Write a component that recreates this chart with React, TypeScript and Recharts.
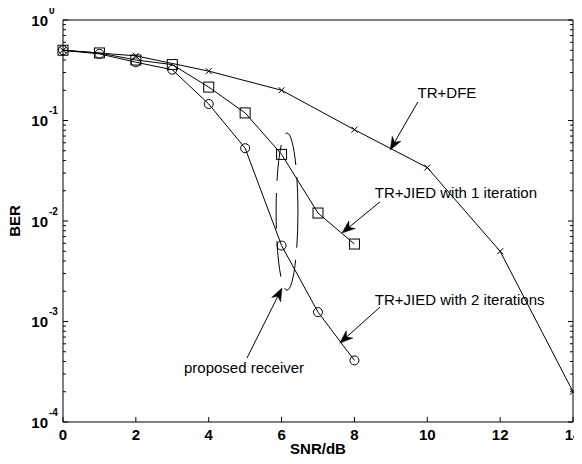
import React from 'react';
import { LineChart, Line, XAxis, YAxis, ReferenceLine, ReferenceDot, ReferenceArea } from 'recharts';

// ---- data ----
const dfeSnr = [0, 2, 4, 6, 8, 10, 12, 14];
const dfeBer = [0.5, 0.44, 0.31, 0.2, 0.081, 0.034, 0.005, 0.0002];
const jiedSnr = [0, 1, 2, 3, 4, 5, 6, 7, 8];
const jied1Ber = [0.5, 0.47, 0.4, 0.36, 0.215, 0.119, 0.046, 0.012, 0.0059];
const jied2Ber = [0.5, 0.46, 0.38, 0.32, 0.146, 0.053, 0.0057, 0.00124, 0.00041];

const xTicks = [0, 2, 4, 6, 8, 10, 12, 14];
const yExponents = [-4, -3, -2, -1, 0];
const yMinorMultipliers = [2, 3, 4, 5, 6, 7, 8, 9];
const yMajorTicks = yExponents.map((e) => Math.pow(10, e));
const yMinorTicks = yExponents.slice(0, -1).flatMap((e) => yMinorMultipliers.map((m) => m * Math.pow(10, e)));
const yAllTicks = [...yMajorTicks, ...yMinorTicks].sort((a, b) => a - b);

const annotationLabels = [
  { text: 'TR+DFE', x: 10.54, y: 0.192, anchor: 'middle' },
  { text: 'TR+JIED with 1 iteration', x: 8.56, y: 0.0194, anchor: 'start' },
  { text: 'TR+JIED with 2 iterations', x: 8.56, y: 0.00164, anchor: 'start' },
  { text: 'proposed receiver', x: 4.97, y: 0.000345, anchor: 'middle' },
];
const annotationArrows = [
  { from: { x: 9.74, y: 0.153 }, to: { x: 8.98, y: 0.0508 } },
  { from: { x: 8.7, y: 0.0155 }, to: { x: 7.66, y: 0.0076 } },
  { from: { x: 8.7, y: 0.00139 }, to: { x: 7.6, y: 0.00061 } },
  { from: { x: 5.05, y: 0.000433 }, to: { x: 6.01, y: 0.00215 } },
];
const ellipseBox = { x1: 5.85, x2: 6.45, y1: 0.00205, y2: 0.075 };

const FONT = "'Liberation Sans', Arial, Helvetica, sans-serif";

const toPoints = (xs: number[], ys: number[]) => xs.map((x, i) => ({ x, y: ys[i] }));
const dfeData = toPoints(dfeSnr, dfeBer);
const jied1Data = toPoints(jiedSnr, jied1Ber);
const jied2Data = toPoints(jiedSnr, jied2Ber);

const isMajor = (v: number) => {
  const lg = Math.log10(v);
  return Math.abs(lg - Math.round(lg)) < 1e-6;
};

const LeftTick = (p: any) => {
  const { x, y, payload } = p;
  const v = payload.value;
  const major = isMajor(v);
  const e = Math.round(Math.log10(v));
  return (
    <g>
      <line x1={x} y1={y} x2={x + (major ? 5 : 3)} y2={y} stroke="#000" strokeWidth={1} />
      {major && (
        <g fontFamily={FONT} fontWeight="bold" fill="#000">
          <text x={x - 15} y={y} textAnchor="end" dominantBaseline="central" fontSize={15}>10</text>
          <text x={x - 14} y={y - 10} textAnchor="start" dominantBaseline="central" fontSize={10}>{String(e)}</text>
        </g>
      )}
    </g>
  );
};

const RightTick = (p: any) => {
  const { x, y, payload } = p;
  const major = isMajor(payload.value);
  return <line x1={x} y1={y} x2={x - (major ? 5 : 3)} y2={y} stroke="#000" strokeWidth={1} />;
};

const BottomTick = (p: any) => {
  const { x, y, payload } = p;
  return (
    <g>
      <line x1={x} y1={y} x2={x} y2={y - 5} stroke="#000" strokeWidth={1} />
      <text x={x} y={y + 12} textAnchor="middle" dominantBaseline="central" fontFamily={FONT} fontWeight="bold" fontSize={15} fill="#000">
        {String(payload.value)}
      </text>
    </g>
  );
};

const TopTick = (p: any) => {
  const { x, y } = p;
  return <line x1={x} y1={y} x2={x} y2={y + 5} stroke="#000" strokeWidth={1} />;
};

const SquareDot = (p: any) => {
  if (p.cx == null || p.cy == null) return <g key={p.key} />;
  return <rect key={p.key} x={p.cx - 5} y={p.cy - 5} width={10} height={10} fill="none" stroke="#000" strokeWidth={1} />;
};
const CircleDot = (p: any) => {
  if (p.cx == null || p.cy == null) return <g key={p.key} />;
  return <circle key={p.key} cx={p.cx} cy={p.cy} r={4.5} fill="none" stroke="#000" strokeWidth={1} />;
};
const CrossDot = (p: any) => {
  if (p.cx == null || p.cy == null) return <g key={p.key} />;
  const s = 3;
  return (
    <g key={p.key} stroke="#000" strokeWidth={1}>
      <line x1={p.cx - s} y1={p.cy - s} x2={p.cx + s} y2={p.cy + s} />
      <line x1={p.cx - s} y1={p.cy + s} x2={p.cx + s} y2={p.cy - s} />
    </g>
  );
};

const ArrowShape = (p: any) => {
  const { x1, y1, x2, y2 } = p;
  if ([x1, y1, x2, y2].some((v) => v == null || isNaN(v))) return <g />;
  const dx = x2 - x1;
  const dy = y2 - y1;
  const len = Math.hypot(dx, dy) || 1;
  const ux = dx / len;
  const uy = dy / len;
  const nx = -uy;
  const ny = ux;
  const L = 13;
  const W = 5;
  const N = 9;
  const bx = x2 - ux * L;
  const by = y2 - uy * L;
  const pts = [
    [x2, y2],
    [bx + nx * W, by + ny * W],
    [x2 - ux * N, y2 - uy * N],
    [bx - nx * W, by - ny * W],
  ]
    .map((q) => q.join(','))
    .join(' ');
  return (
    <g>
      <line x1={x1} y1={y1} x2={x2 - ux * N} y2={y2 - uy * N} stroke="#000" strokeWidth={1} />
      <polygon points={pts} fill="#000" stroke="#000" strokeWidth={0.5} />
    </g>
  );
};

const EllipseShape = (p: any) => {
  const { x, y, width, height } = p;
  if ([x, y, width, height].some((v) => v == null || isNaN(v))) return <g />;
  return (
    <ellipse
      cx={x + width / 2}
      cy={y + height / 2}
      rx={Math.abs(width) / 2}
      ry={Math.abs(height) / 2}
      fill="none"
      stroke="#000"
      strokeWidth={1}
      strokeDasharray="36 12"
    />
  );
};

const makeTextShape = (text: string, anchor: string) => (p: any) => {
  if (p.cx == null || p.cy == null) return <g />;
  return (
    <text x={p.cx} y={p.cy} textAnchor={anchor as any} dominantBaseline="central" fontFamily={FONT} fontSize={15} fill="#000">
      {text}
    </text>
  );
};

const BerLabel = (p: any) => {
  const vb = p.viewBox || {};
  const cx = (vb.x ?? 13) + 1;
  const cy = (vb.y ?? 20) + (vb.height ?? 402) / 2;
  return (
    <text x={cx} y={cy} transform={`rotate(-90 ${cx} ${cy})`} textAnchor="middle" dominantBaseline="central" fontFamily={FONT} fontWeight="bold" fontSize={15} fill="#000">
      BER
    </text>
  );
};

const SnrLabel = (p: any) => {
  const vb = p.viewBox || {};
  const cx = (vb.x ?? 63) + (vb.width ?? 510) / 2;
  const cy = (vb.y ?? 422) + 26;
  return (
    <text x={cx} y={cy} textAnchor="middle" dominantBaseline="central" fontFamily={FONT} fontWeight="bold" fontSize={15} fill="#000">
      SNR/dB
    </text>
  );
};

export default function App() {
  const axisLine = { stroke: '#000', strokeWidth: 1 };
  return (
    <div style={{ width: 582, height: 464, margin: '-8px 0 0 -8px' }}>
      <LineChart width={582} height={464} margin={{ top: 19, right: 8, bottom: 0, left: 13 }}>
        <XAxis
          dataKey="x"
          type="number"
          domain={[0, 14]}
          ticks={xTicks}
          interval={0}
          height={42}
          tickSize={0}
          tickMargin={0}
          tickLine={false}
          axisLine={axisLine}
          tick={<BottomTick />}
          label={SnrLabel}
        />
        <XAxis
          xAxisId="top"
          orientation="top"
          type="number"
          domain={[0, 14]}
          ticks={xTicks}
          interval={0}
          height={1}
          tickSize={0}
          tickMargin={0}
          tickLine={false}
          axisLine={axisLine}
          tick={<TopTick />}
          allowDataOverflow
        />
        <YAxis
          type="number"
          scale="log"
          domain={[0.0001, 1]}
          ticks={yAllTicks}
          interval={0}
          width={50}
          tickSize={0}
          tickMargin={0}
          tickLine={false}
          axisLine={axisLine}
          tick={<LeftTick />}
          label={BerLabel}
        />
        <YAxis
          yAxisId="right"
          orientation="right"
          type="number"
          scale="log"
          domain={[0.0001, 1]}
          ticks={yAllTicks}
          interval={0}
          width={1}
          tickSize={0}
          tickMargin={0}
          tickLine={false}
          axisLine={axisLine}
          tick={<RightTick />}
          allowDataOverflow
        />
        <ReferenceArea x1={ellipseBox.x1} x2={ellipseBox.x2} y1={ellipseBox.y1} y2={ellipseBox.y2} shape={EllipseShape} />
        <Line data={dfeData} dataKey="y" type="linear" stroke="#000" strokeWidth={1} dot={CrossDot} activeDot={false} isAnimationActive={false} />
        <Line data={jied1Data} dataKey="y" type="linear" stroke="#000" strokeWidth={1} dot={SquareDot} activeDot={false} isAnimationActive={false} />
        <Line data={jied2Data} dataKey="y" type="linear" stroke="#000" strokeWidth={1} dot={CircleDot} activeDot={false} isAnimationActive={false} />
        {annotationArrows.map((a, i) => (
          <ReferenceLine key={'arr' + i} segment={[a.from, a.to]} shape={ArrowShape} />
        ))}
        {annotationLabels.map((l, i) => (
          <ReferenceDot key={'lbl' + i} x={l.x} y={l.y} r={0} shape={makeTextShape(l.text, l.anchor)} />
        ))}
      </LineChart>
    </div>
  );
}
